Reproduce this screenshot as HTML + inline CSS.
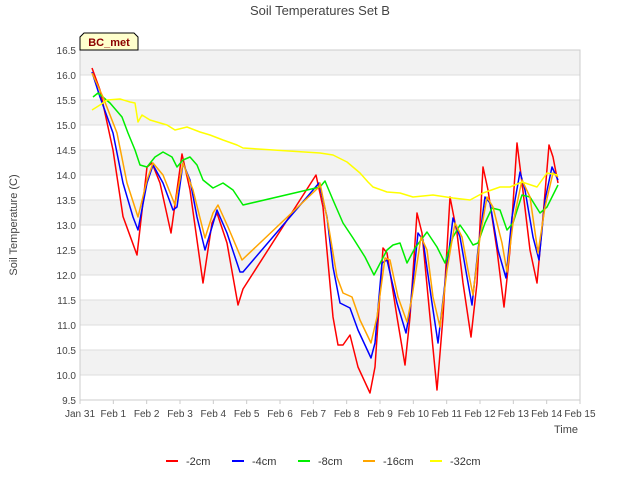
<!DOCTYPE html>
<html><head><meta charset="utf-8"><style>
body{margin:0;background:#fff;font-family:"Liberation Sans",sans-serif}
svg{display:block}
</style></head><body>
<svg id="chart" width="640" height="480" xmlns="http://www.w3.org/2000/svg" font-family="Liberation Sans, sans-serif">
<text x="320" y="15" text-anchor="middle" font-size="13" fill="#444">Soil Temperatures Set B</text>
<g id="bands"></g>
<g id="yaxis"></g>
<g id="xaxis"></g>
<text transform="translate(17,225) rotate(-90)" text-anchor="middle" font-size="11" fill="#444">Soil Temperature (C)</text>
<text x="566" y="433" text-anchor="middle" font-size="11" fill="#444">Time</text>
<g id="series"></g>
<g>
<path d="M80,50 L80,37 L84,33 L134,33 L138,37 L138,50 Z" fill="#ffffcc" stroke="#000" stroke-width="1"/>
<text x="109" y="46" text-anchor="middle" font-size="11" font-weight="bold" fill="#8b0000">BC_met</text>
</g>
<g id="legend"></g>
</svg>
<script>
const yTicks=[9.5,10.0,10.5,11.0,11.5,12.0,12.5,13.0,13.5,14.0,14.5,15.0,15.5,16.0,16.5];
const xTickLabels=["Jan 31","Feb 1","Feb 2","Feb 3","Feb 4","Feb 5","Feb 6","Feb 7","Feb 8","Feb 9","Feb 10","Feb 11","Feb 12","Feb 13","Feb 14","Feb 15"];
const seriesNames=["-2cm","-4cm","-8cm","-16cm","-32cm"];
const seriesColors=["#ff0000","#0000ff","#00ee00","#ffa500","#ffff00"];
const d2=[[0.36,16.14],[0.6,15.7],[0.99,14.5],[1.29,13.17],[1.71,12.4],[2.01,14.16],[2.16,14.24],[2.4,13.84],[2.73,12.84],[3.06,14.42],[3.3,13.7],[3.69,11.84],[3.96,13.04],[4.11,13.24],[4.41,12.64],[4.74,11.4],[4.89,11.72],[7.08,14.0],[7.29,13.36],[7.59,11.16],[7.74,10.6],[7.89,10.6],[8.1,10.8],[8.34,10.16],[8.7,9.64],[8.85,10.16],[9.09,12.54],[9.21,12.44],[9.51,11.16],[9.75,10.2],[9.9,11.16],[10.11,13.24],[10.26,12.84],[10.5,11.16],[10.71,9.7],[10.89,11.16],[11.1,13.56],[11.31,12.84],[11.49,11.84],[11.73,10.76],[11.91,11.84],[12.09,14.16],[12.24,13.7],[12.51,12.5],[12.72,11.36],[12.9,12.5],[13.11,14.64],[13.26,13.84],[13.5,12.5],[13.71,11.84],[13.89,13.16],[14.07,14.6],[14.19,14.36],[14.34,13.84]];
const d4=[[0.36,16.06],[0.6,15.56],[0.99,14.84],[1.29,13.84],[1.59,13.16],[1.74,12.9],[2.01,13.84],[2.19,14.2],[2.49,13.84],[2.79,13.3],[2.91,13.36],[3.09,14.24],[3.3,13.9],[3.51,13.16],[3.75,12.5],[3.96,12.96],[4.11,13.3],[4.41,12.84],[4.8,12.06],[4.89,12.06],[7.17,13.84],[7.2,13.76],[7.41,13.16],[7.59,12.16],[7.8,11.44],[8.1,11.34],[8.34,10.9],[8.73,10.34],[8.85,10.64],[9.06,12.24],[9.21,12.3],[9.51,11.44],[9.78,10.84],[9.9,11.3],[10.14,12.84],[10.29,12.7],[10.56,11.44],[10.74,10.64],[10.95,11.84],[11.19,13.14],[11.4,12.76],[11.61,11.96],[11.76,11.4],[11.94,12.5],[12.15,13.56],[12.3,13.44],[12.54,12.5],[12.78,11.94],[12.96,13.16],[13.2,14.06],[13.35,13.7],[13.59,12.76],[13.77,12.3],[13.95,13.5],[14.16,14.16],[14.34,13.9]];
const d8=[[0.39,15.56],[0.54,15.64],[0.9,15.44],[1.26,15.16],[1.44,14.84],[1.65,14.5],[1.8,14.2],[2.01,14.16],[2.25,14.36],[2.49,14.46],[2.76,14.36],[2.91,14.16],[3.09,14.3],[3.3,14.36],[3.51,14.2],[3.69,13.9],[3.99,13.74],[4.29,13.84],[4.59,13.7],[4.89,13.4],[7.2,13.76],[7.35,13.88],[7.59,13.5],[7.89,13.04],[8.19,12.74],[8.55,12.36],[8.82,12.0],[9.21,12.5],[9.39,12.6],[9.6,12.64],[9.81,12.24],[10.05,12.54],[10.41,12.86],[10.71,12.56],[10.95,12.24],[11.19,12.76],[11.4,13.0],[11.61,12.8],[11.79,12.6],[11.94,12.64],[12.15,13.04],[12.36,13.34],[12.6,13.3],[12.81,12.9],[12.99,13.04],[13.26,13.6],[13.5,13.56],[13.8,13.24],[14.01,13.36],[14.34,13.8]];
const d16=[[0.36,16.04],[0.69,15.56],[1.11,14.84],[1.41,13.84],[1.74,13.16],[2.01,13.9],[2.19,14.24],[2.49,14.0],[2.85,13.4],[3.09,14.24],[3.39,13.7],[3.75,12.74],[3.99,13.24],[4.14,13.4],[4.44,12.96],[4.86,12.3],[7.17,13.76],[7.2,13.84],[7.44,13.04],[7.71,11.96],[7.89,11.64],[8.16,11.56],[8.4,11.1],[8.73,10.64],[8.91,11.16],[9.15,12.34],[9.3,12.3],[9.54,11.56],[9.81,11.06],[9.96,11.56],[10.23,12.76],[10.41,12.5],[10.59,11.56],[10.8,10.96],[11.01,12.1],[11.25,13.04],[11.46,12.76],[11.64,12.1],[11.79,11.6],[12.0,12.76],[12.21,13.56],[12.39,13.36],[12.66,12.64],[12.81,12.06],[12.99,13.04],[13.26,13.9],[13.5,13.56],[13.74,12.44],[13.95,13.36],[14.19,14.04],[14.34,13.96]];
const d32=[[0.36,15.3],[0.6,15.4],[0.81,15.5],[1.2,15.52],[1.5,15.46],[1.65,15.44],[1.74,15.06],[1.86,15.2],[2.1,15.1],[2.61,15.0],[2.85,14.9],[3.21,14.96],[3.6,14.86],[3.9,14.8],[4.29,14.7],[4.71,14.6],[4.89,14.54],[7.2,14.44],[7.59,14.4],[8.01,14.26],[8.4,14.04],[8.64,13.86],[8.79,13.76],[9.21,13.66],[9.6,13.64],[9.99,13.56],[10.59,13.6],[11.19,13.54],[11.7,13.5],[12.09,13.64],[12.6,13.76],[12.9,13.76],[13.26,13.86],[13.71,13.76],[14.01,14.04],[14.34,14.0]];
const allData=[d2,d4,d8,d16,d32];
const NS="http://www.w3.org/2000/svg";
const L=80,R=580,T=50,B=400,ymin=9.5,ymax=16.5,xmax=15;
const xs=d=>L+d/xmax*(R-L);
const ys=v=>B-(v-ymin)/(ymax-ymin)*(B-T);
function mk(tag,attrs,parent){const e=document.createElementNS(NS,tag);for(const k in attrs)e.setAttribute(k,attrs[k]);parent.appendChild(e);return e;}
const bands=document.getElementById('bands');
for(let i=0;i<yTicks.length-1;i++){
  const r=mk('rect',{x:L,y:ys(yTicks[i+1]),width:R-L,height:ys(yTicks[i])-ys(yTicks[i+1]),fill:(i%2===0)?'#ffffff':'#f2f2f2'},bands);
  
  
}
yTicks.forEach(v=>{const l=mk('line',{x1:L,x2:R,y1:ys(v),y2:ys(v),stroke:'#dddddd','stroke-width':1},bands);
  
  });
mk('rect',{x:L,y:T,width:R-L,height:B-T,fill:'none',stroke:'#cccccc'},bands);
const ya=document.getElementById('yaxis');
yTicks.forEach(v=>{const t=mk('text',{x:L-4,y:ys(v)+4,'text-anchor':'end','font-size':10,fill:'#444'},ya);t.textContent=v.toFixed(1);
  
  });
const xa=document.getElementById('xaxis');
xTickLabels.forEach((s,i)=>{mk('line',{x1:xs(i),x2:xs(i),y1:B,y2:B+4,stroke:'#ccc'},xa);
  const t=mk('text',{x:xs(i),y:B+17,'text-anchor':'middle','font-size':10,fill:'#444'},xa);t.textContent=s;
  
  });
const sg=document.getElementById('series');
allData.forEach((data,k)=>{
  const p=mk('polyline',{points:data.map(q=>xs(q[0]).toFixed(1)+','+ys(q[1]).toFixed(1)).join(' '),fill:'none',stroke:seriesColors[k],'stroke-width':1.5,'stroke-linejoin':'round'},sg);
  
  
});
const lg=document.getElementById('legend');
const lx=[166,232,298,363,430];
seriesNames.forEach((s,k)=>{
  const g=mk('g',{},lg);
  
  
  mk('line',{x1:lx[k],x2:lx[k]+12,y1:461,y2:461,stroke:seriesColors[k],'stroke-width':2},g);
  const t=mk('text',{x:lx[k]+20,y:465,'font-size':11,fill:'#333'},g);t.textContent=s;
});
</script>
</body></html>
